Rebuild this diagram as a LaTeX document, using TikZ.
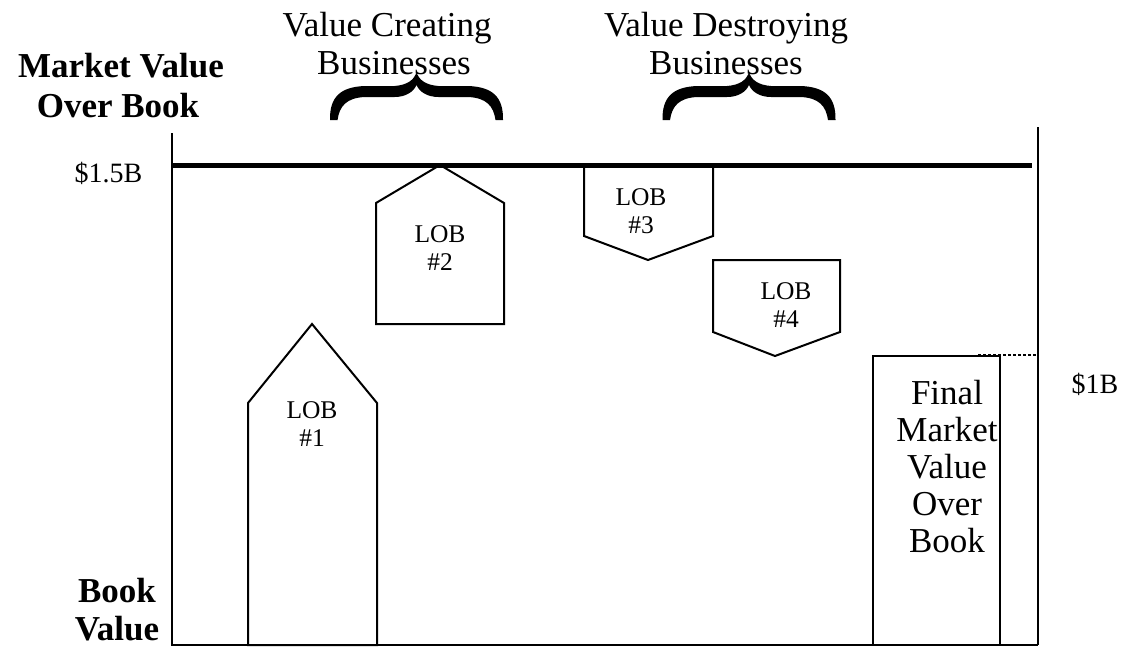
\documentclass[tikz,border=0pt]{standalone}
\usepackage{fontspec}
\setmainfont{Liberation Serif}
\begin{document}
\begin{tikzpicture}[x=1pt,y=-1pt,
  lob/.style={draw=black,line width=2pt,fill=white,line join=miter},
  axis/.style={draw=black,line width=2pt},
  big/.style={font=\fontsize{35}{38}\selectfont,inner sep=0pt,anchor=base},
  bigb/.style={font=\fontsize{35}{40}\selectfont\bfseries,inner sep=0pt,anchor=base},
  fin/.style={font=\fontsize{35}{37}\selectfont,inner sep=0pt,anchor=base},
  small/.style={font=\fontsize{25.5}{28}\selectfont,inner sep=0pt,anchor=base},
  val/.style={font=\fontsize{28}{30}\selectfont,inner sep=0pt,anchor=base},
  upbrace/.pic={
    \fill[black] (-86.5,47) .. controls (-87,24) and (-76,14) .. (-52,13) -- (-22,13)
      .. controls (-9,12) and (-3,7) .. (0,0) .. controls (3,7) and (9,12) .. (22,13)
      -- (52,13) .. controls (76,14) and (87,24) .. (86.5,47) -- (79,47)
      .. controls (77,33) and (70,25) .. (52,24) -- (22,24)
      .. controls (11,24) and (3,19) .. (0,12) .. controls (-3,19) and (-11,24) .. (-22,24)
      -- (-52,24) .. controls (-70,25) and (-77,33) .. (-79,47) -- cycle;
  }
]
\useasboundingbox (0,0) rectangle (1125,648);
\fill[white] (0,0) rectangle (1125,648);

% coordinates
\coordinate (axtop) at (172,133);
\coordinate (orig) at (172,645);
\coordinate (axend) at (1038,645);
\coordinate (rtop) at (1038,127);
\coordinate (topL) at (172,165);
\coordinate (topR) at (1032,165);
\coordinate (dotL) at (978,355);
\coordinate (dotR) at (1038,355);

% shapes
\path[lob] (248,645) -- (248,403) -- (312,324) -- (377,403) -- (377,645) -- cycle;
\path[lob] (376,324) -- (376,203) -- (440,165) -- (504,203) -- (504,324) -- cycle;
\path[lob] (584,165) -- (584,236) -- (648,260) -- (713,236) -- (713,165) -- cycle;
\path[lob] (713,260) -- (713,332) -- (775,356) -- (840,332) -- (840,260) -- cycle;
\path[lob] (873,356) rectangle (1000,645);

% axes
\draw[axis] (axtop) -- (orig) -- (axend);
\draw[axis] (rtop) -- (axend);
\draw[line width=5pt] (topL) -- (topR);
\draw[line width=2.5pt,dash pattern=on 3pt off 2pt] (dotL) -- (dotR);

% braces
\pic at (416.5,73) {upbrace};
\pic at (749,73) {upbrace};

% titles
\node[big] (t1a) at (387,36) {Value Creating};
\node[big] (t1b) at (394,74) {Businesses};
\node[big] (t2a) at (726,36) {Value Destroying};
\node[big] (t2b) at (726,74) {Businesses};

\node[bigb] (m1) at (121,77) {Market Value};
\node[bigb] (m2) at (118,117) {Over Book};
\node[bigb] (b1) at (117,602) {Book};
\node[bigb] (b2) at (117,640) {Value};

\node[val] (v15) at (108.5,182) {\$1.5B};
\node[val] (v1) at (1095,393) {\$1B};

% LOB labels
\node[small] (l1a) at (312,418) {LOB};
\node[small] (l1b) at (312,446) {\#1};
\node[small] (l2a) at (440,242) {LOB};
\node[small] (l2b) at (440,270) {\#2};
\node[small] (l3a) at (641,205) {LOB};
\node[small] (l3b) at (641,233) {\#3};
\node[small] (l4a) at (786,299) {LOB};
\node[small] (l4b) at (786,327) {\#4};

% final
\node[fin] (f1) at (947,404) {Final};
\node[fin] (f2) at (947,441) {Market};
\node[fin] (f3) at (947,478) {Value};
\node[fin] (f4) at (947,515) {Over};
\node[fin] (f5) at (947,552) {Book};
\end{tikzpicture}
\end{document}
